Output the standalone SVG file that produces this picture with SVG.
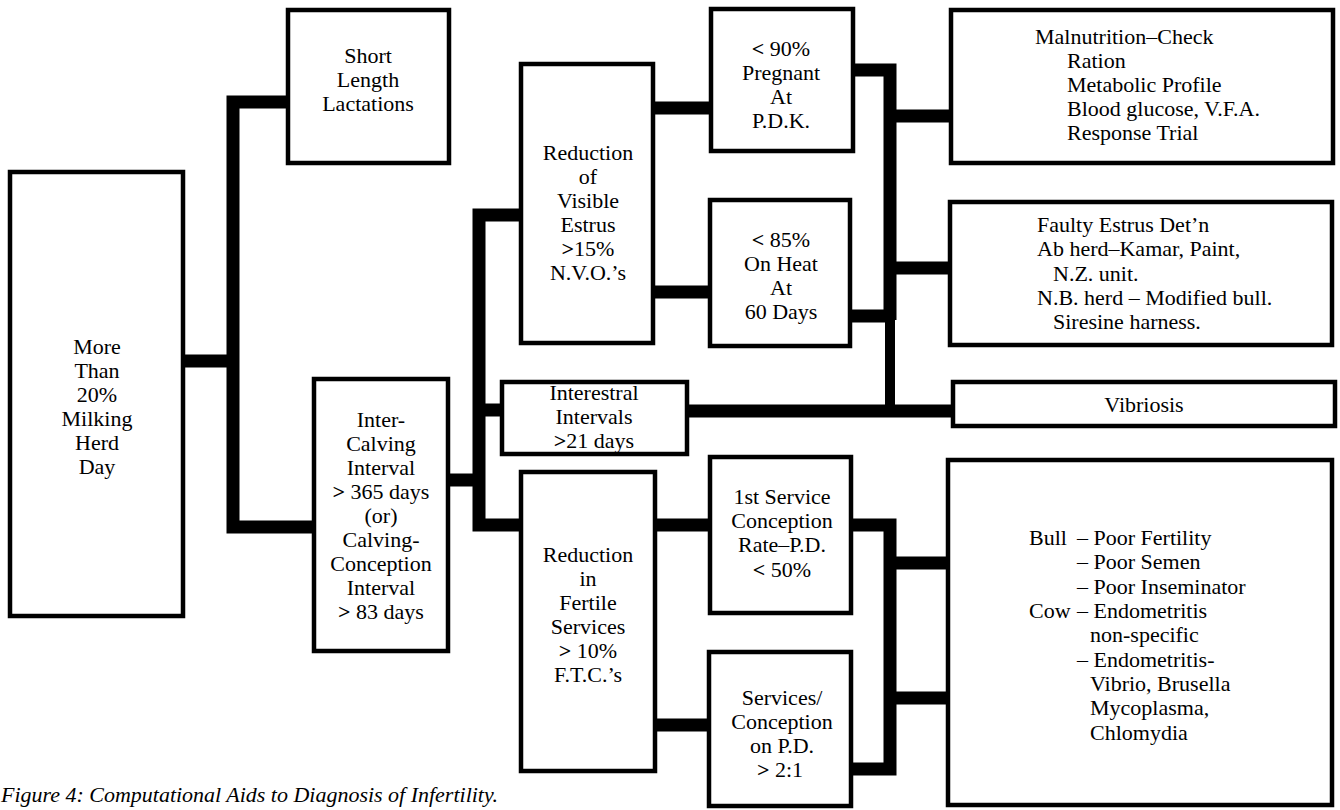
<svg xmlns="http://www.w3.org/2000/svg" width="1340" height="810" viewBox="0 0 1340 810">
<style>
.box{fill:#fff;stroke:#000;stroke-width:4.5}
.t{font-family:"Liberation Serif","Times New Roman",serif;font-size:22px;fill:#000}
.c{text-anchor:middle}
.b{font-weight:bold}
.ln{fill:none;stroke:#000;stroke-width:13;stroke-linejoin:miter;stroke-linecap:butt}
.cap{font-family:"Liberation Serif","Times New Roman",serif;font-size:21px;font-style:italic;fill:#000}
</style>
<rect width="1340" height="810" fill="#fff"/>
<g id="connectors">
<path class="ln" d="M185 361 H233"/>
<path class="ln" d="M287 102 H233 V527 H314"/>
<path class="ln" d="M450 480 H479"/>
<path class="ln" d="M521 215 H479 V525 H521"/>
<path class="ln" d="M479 410 H502"/>
<path class="ln" d="M655 108 H711"/>
<path class="ln" d="M655 292 H710"/>
<path class="ln" d="M853 70 H890 V320"/>
<path class="ln" d="M890 116 H951"/>
<path class="ln" d="M890 268 H950"/>
<path class="ln" d="M850 316 H890"/>
<path class="ln" style="stroke-width:10" d="M890 316 V411"/>
<path class="ln" d="M687 411 H953"/>
<path class="ln" d="M655 525 H710"/>
<path class="ln" d="M655 725 H709"/>
<path class="ln" d="M851 525 H890 V769 H851"/>
<path class="ln" d="M890 563 H948"/>
<path class="ln" d="M890 698 H948"/>
</g>
<g id="more-than-20">
<rect class="box" x="10" y="172" width="173" height="444"/>
<text class="t c" x="97" y="354">More</text>
<text class="t c" x="97" y="378">Than</text>
<text class="t c" x="97" y="402">20%</text>
<text class="t c" x="97" y="426">Milking</text>
<text class="t c" x="97" y="450">Herd</text>
<text class="t c" x="97" y="474">Day</text>
</g>
<g id="short-length">
<rect class="box" x="288" y="10" width="161" height="153"/>
<text class="t c" x="368" y="63">Short</text>
<text class="t c" x="368" y="87">Length</text>
<text class="t c" x="368" y="111">Lactations</text>
</g>
<g id="inter-calving">
<rect class="box" x="314" y="379" width="134" height="272"/>
<text class="t c" x="381" y="427">Inter-</text>
<text class="t c" x="381" y="451">Calving</text>
<text class="t c" x="381" y="475">Interval</text>
<text class="t c" x="381" y="499"><tspan class="b">&gt;</tspan> 365 days</text>
<text class="t c" x="381" y="523">(or)</text>
<text class="t c" x="381" y="547">Calving-</text>
<text class="t c" x="381" y="571">Conception</text>
<text class="t c" x="381" y="595">Interval</text>
<text class="t c" x="381" y="619"><tspan class="b">&gt;</tspan> 83 days</text>
</g>
<g id="visible-estrus">
<rect class="box" x="521" y="64" width="132" height="279"/>
<text class="t c" x="588" y="160">Reduction</text>
<text class="t c" x="588" y="184">of</text>
<text class="t c" x="588" y="208">Visible</text>
<text class="t c" x="588" y="232">Estrus</text>
<text class="t c" x="588" y="256"><tspan class="b">&gt;</tspan>15%</text>
<text class="t c" x="588" y="280">N.V.O.’s</text>
</g>
<g id="pregnant">
<rect class="box" x="711" y="9" width="142" height="142"/>
<text class="t c" x="781" y="56"><tspan class="b">&lt;</tspan> 90%</text>
<text class="t c" x="781" y="80">Pregnant</text>
<text class="t c" x="781" y="104">At</text>
<text class="t c" x="781" y="128">P.D.K.</text>
</g>
<g id="on-heat">
<rect class="box" x="710" y="200" width="140" height="146"/>
<text class="t c" x="781" y="247"><tspan class="b">&lt;</tspan> 85%</text>
<text class="t c" x="781" y="271">On Heat</text>
<text class="t c" x="781" y="295">At</text>
<text class="t c" x="781" y="319">60 Days</text>
</g>
<g id="interestral">
<rect class="box" x="502" y="382" width="185" height="72"/>
<text class="t c" x="594" y="400">Interestral</text>
<text class="t c" x="594" y="424">Intervals</text>
<text class="t c" x="594" y="448"><tspan class="b">&gt;</tspan>21 days</text>
</g>
<g id="fertile-services">
<rect class="box" x="521" y="472" width="134" height="299"/>
<text class="t c" x="588" y="562">Reduction</text>
<text class="t c" x="588" y="586">in</text>
<text class="t c" x="588" y="610">Fertile</text>
<text class="t c" x="588" y="634">Services</text>
<text class="t c" x="588" y="658"><tspan class="b">&gt;</tspan> 10%</text>
<text class="t c" x="588" y="682">F.T.C.’s</text>
</g>
<g id="first-service">
<rect class="box" x="710" y="457" width="141" height="156"/>
<text class="t c" x="782" y="504">1st Service</text>
<text class="t c" x="782" y="528">Conception</text>
<text class="t c" x="782" y="552">Rate–P.D.</text>
<text class="t c" x="782" y="577"><tspan class="b">&lt;</tspan> 50%</text>
</g>
<g id="services-conception">
<rect class="box" x="709" y="652" width="142" height="154"/>
<text class="t c" x="782" y="705">Services/</text>
<text class="t c" x="782" y="729">Conception</text>
<text class="t c" x="782" y="753">on P.D.</text>
<text class="t c" x="780" y="777"><tspan class="b">&gt;</tspan> 2:1</text>
</g>
<g id="malnutrition">
<rect class="box" x="951" y="10" width="382" height="153"/>
<text class="t" x="1035" y="44">Malnutrition–Check</text>
<text class="t" x="1067" y="68">Ration</text>
<text class="t" x="1067" y="92">Metabolic Profile</text>
<text class="t" x="1067" y="116">Blood glucose, V.F.A.</text>
<text class="t" x="1067" y="140">Response Trial</text>
</g>
<g id="faulty-estrus">
<rect class="box" x="950" y="202" width="382" height="143"/>
<text class="t" x="1037" y="232">Faulty Estrus Det’n</text>
<text class="t" x="1037" y="256">Ab herd–Kamar, Paint,</text>
<text class="t" x="1053" y="281">N.Z. unit.</text>
<text class="t" x="1037" y="305">N.B. herd – Modified bull.</text>
<text class="t" x="1053" y="329">Siresine harness.</text>
</g>
<g id="vibriosis">
<rect class="box" x="953" y="382" width="382" height="44"/>
<text class="t c" x="1144" y="412">Vibriosis</text>
</g>
<g id="bull-cow">
<rect class="box" x="948" y="460" width="384" height="345"/>
<text class="t" y="545"><tspan x="1029">Bull</tspan><tspan x="1077">– Poor Fertility</tspan></text>
<text class="t" x="1077" y="569">– Poor Semen</text>
<text class="t" x="1077" y="594">– Poor Inseminator</text>
<text class="t" y="618"><tspan x="1029">Cow</tspan><tspan x="1077">– Endometritis</tspan></text>
<text class="t" x="1090" y="642">non-specific</text>
<text class="t" x="1077" y="667">– Endometritis-</text>
<text class="t" x="1090" y="691">Vibrio, Brusella</text>
<text class="t" x="1090" y="715">Mycoplasma,</text>
<text class="t" x="1090" y="740">Chlomydia</text>
</g>
<text class="cap" x="1" y="802" textLength="497" lengthAdjust="spacingAndGlyphs">Figure 4: Computational Aids to Diagnosis of Infertility.</text>
</svg>
